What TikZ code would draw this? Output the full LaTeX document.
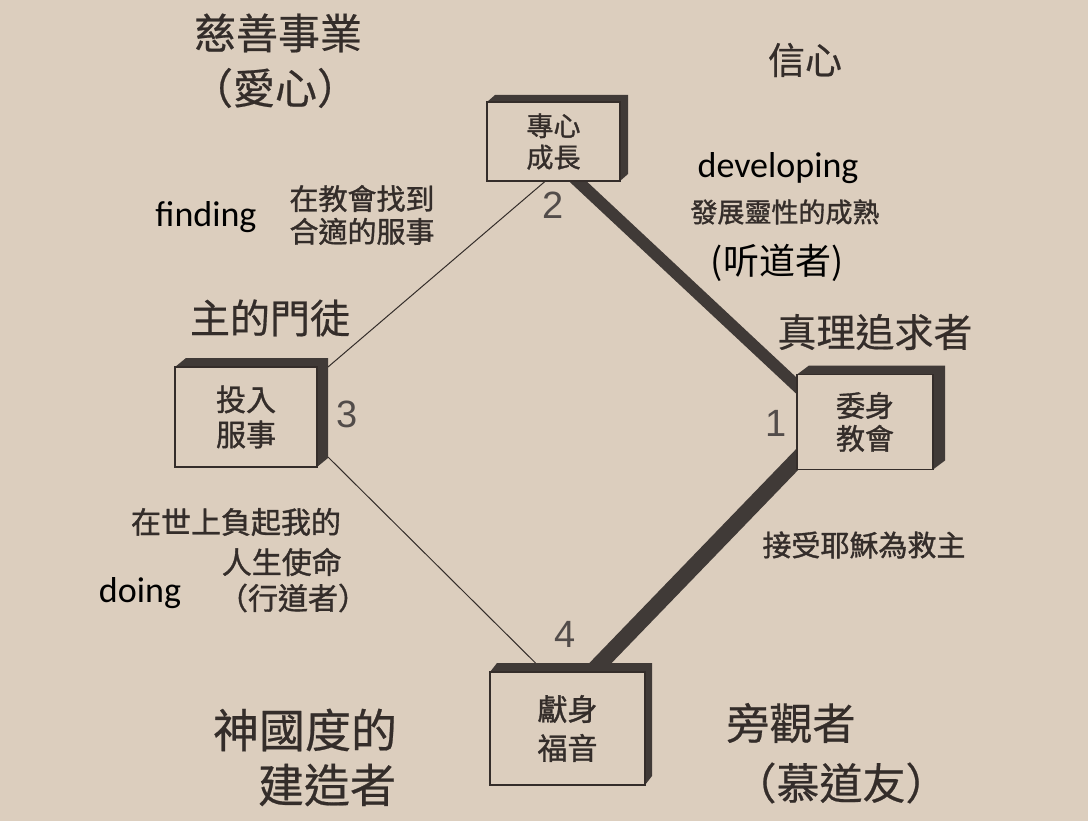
\documentclass[tikz,border=0pt]{standalone}
\usepackage{fontspec}
\setmainfont{Noto Sans}
\newfontfamily\tcfont[FakeBold=0.5]{Noto Sans CJK TC}
\newfontfamily\tcbold[FakeBold=1.2]{Noto Sans CJK TC}
\newfontfamily\scfont{Noto Sans CJK SC}
\newfontfamily\enfont{Carlito}
\newfontfamily\numfont{Liberation Sans}
\definecolor{page}{RGB}{220,206,190}
\definecolor{ink}{RGB}{52,45,42}
\definecolor{boxdark}{RGB}{64,58,55}
\newcommand\fsz[1]{\fontsize{#1pt}{1.2\dimexpr#1pt\relax}\selectfont}
\newcommand\extr[3]{%
  \fill[boxdark] (#1.north west) -- ([shift={(#2,#3)}]#1.north west) -- ([shift={(#2,#3)}]#1.north east) -- ([shift={(#2,#3)}]#1.south east) -- (#1.south east) -- (#1.north east) -- cycle;
  \draw[ink, line width=1.1pt] (#1.north west) rectangle (#1.south east);}
\tikzset{
  lbl/.style={inner sep=0pt, text=ink, font=\tcfont},
  small/.style={inner sep=0pt, text=ink, font=\tcbold\fsz{#1}},
  eng/.style={inner sep=0pt, text=black, font=\enfont\fsz{36}},
  num/.style={inner sep=0pt, text=ink!85, font=\numfont\fsz{38}},
  stage/.style={draw=ink, line width=1.1pt, fill=page, inner sep=0pt, outer sep=0pt, align=center, text=ink, font=\tcbold},
  thin/.style={draw=ink, line width=1pt},
  bar/.style={draw=boxdark, line cap=butt, shorten <=-12pt, shorten >=-12pt}
}
\begin{document}
\begin{tikzpicture}[x=1pt,y=-1pt]
\fill[page] (0,0) rectangle (1088,821);
\useasboundingbox (0,0) rectangle (1088,821);

% stage boxes (placed first to get anchors)
\node[stage, minimum width=133pt, minimum height=79pt, font=\tcbold\fsz{27}] (b2) at (553.5,141.5) {專心\\[-1pt]成長};
\node[stage, minimum width=142pt, minimum height=100pt, font=\tcbold\fsz{30}] (b3) at (246,417) {投入\\[-1pt]服事};
\node[stage, minimum width=136pt, minimum height=95pt, font=\tcbold\fsz{29}] (b1) at (865,422) {委身\\[-2pt]教會};
\node[stage, minimum width=155pt, minimum height=113pt, font=\tcbold\fsz{30}] (b4) at (567.5,728.5) {獻身\\[3pt]福音};

% connectors
\coordinate (t2a) at ([shift={(-8,0)}]b2.south);
\coordinate (t3a) at ([shift={(11,0)}]b3.north east);
\coordinate (t3b) at ([shift={(11,-10)}]b3.south east);
\coordinate (t4a) at ([shift={(-32,-9)}]b4.north);
\coordinate (k2) at ([shift={(24,0)}]b2.south);
\coordinate (k1a) at ([shift={(3,-33)}]b1.west);
\coordinate (k1b) at ([shift={(5,-15)}]b1.south west);
\coordinate (k4) at ([shift={(33,-9)}]b4.north);
\draw[thin] (t2a) -- (t3a);
\draw[thin] (t3b) -- (t4a);
\draw[bar, line width=12pt] (k2) -- (k1a);
\draw[bar, line width=16pt] (k1b) -- (k4);

% redraw boxes on top of bars
\node[stage, minimum width=133pt, minimum height=79pt, font=\tcbold\fsz{27}] at (553.5,141.5) {專心\\[-1pt]成長};
\node[stage, minimum width=142pt, minimum height=100pt, font=\tcbold\fsz{30}] at (246,417) {投入\\[-1pt]服事};
\node[stage, minimum width=136pt, minimum height=95pt, font=\tcbold\fsz{29}] at (865,422) {委身\\[-2pt]教會};
\node[stage, minimum width=155pt, minimum height=113pt, font=\tcbold\fsz{30}] at (567.5,728.5) {獻身\\[3pt]福音};
\extr{b2}{8}{-7}
\extr{b3}{11}{-9}
\extr{b1}{12}{-9}
\extr{b4}{7}{-9}

% numbers
\node[num] (n2) at (553,205) {2};
\node[num] (n3) at (347,414) {3};
\node[num] (n1) at (776,423) {1};
\node[num] (n4) at (565,634) {4};

% labels
\node[lbl, font=\tcfont\fsz{42}] (l1) at (278,33) {慈善事業};
\node[lbl, font=\tcfont\fsz{42}] (l2) at (275,88) {（愛心）};
\node[lbl, font=\tcfont\fsz{37}] (l3) at (805,60) {信心};
\node[eng] (e1) at (206,217) {finding};
\node[small=29, align=center] (l4) at (362,215) {在教會找到\\[-2pt]合適的服事};
\node[eng] (e2) at (778,168) {developing};
\node[small=27] (l5) at (785,212) {發展靈性的成熟};
\node[inner sep=0pt, text=black, font=\scfont\fsz{36}] (l6) at (777,263) {(听道者)};
\node[lbl, font=\tcfont\fsz{40}] (l7) at (270,318) {主的門徒};
\node[lbl, font=\tcfont\fsz{39}] (l8) at (875,332) {真理追求者};
\node[small=30] (l9) at (236,522) {在世上負起我的};
\node[small=30, anchor=east] (l10) at (342,562) {人生使命};
\node[small=30] (l11) at (293,598) {（行道者）};
\node[eng] (e3) at (140,593) {doing};
\node[small=29] (l12) at (864,545) {接受耶穌為救主};
\node[lbl, font=\tcfont\fsz{43}] (l13) at (791,723) {旁觀者};
\node[lbl, font=\tcfont\fsz{43}] (l14) at (841,783) {（慕道友）};
\node[lbl, font=\tcfont\fsz{46}] (l15) at (305,730) {神國度的};
\node[lbl, font=\tcfont\fsz{46}] (l16) at (327,785) {建造者};
\end{tikzpicture}
\end{document}
